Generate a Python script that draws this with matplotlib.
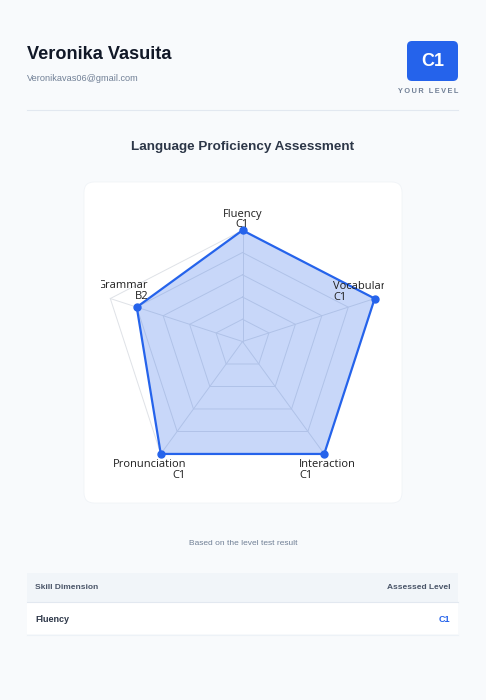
import numpy as np
import matplotlib.pyplot as plt
from matplotlib.patches import FancyBboxPatch, Rectangle

# data
skills = ['Fluency', 'Vocabulary', 'Interaction', 'Pronunciation', 'Grammar']
scores = [5, 5, 5, 5, 4]
levels = ['C1', 'C1', 'C1', 'C1', 'B2']
max_score = 5
table_cols = ['Skill Dimension', 'Assessed Level']
table_rows = [('Fluency', 'C1')]
name = 'Veronika Vasuita'
email = 'Veronikavas06@gmail.com'
overall = 'C1'

W, H = 486, 700
sans = ['Liberation Sans', 'DejaVu Sans']
blue = '#2563eb'

fig = plt.figure(figsize=(W / 100, H / 100), dpi=100)
fig.patch.set_facecolor('#f8fafc')
bg = fig.add_axes([0, 0, 1, 1])
bg.set_xlim(0, W)
bg.set_ylim(H, 0)
bg.axis('off')

# header
bg.text(27, 59.3, name, fontsize=13.1, weight='bold', color='#111827', family=sans)
bg.text(27, 81, email, fontsize=6.6, color='#718096', family=sans)
bg.add_patch(FancyBboxPatch((407, 41), 51, 40, boxstyle='round,pad=0,rounding_size=5',
                            fc=blue, ec='none'))
bg.text(432.5, 66, overall, fontsize=13, weight='bold', color='white', ha='center', family=sans)
bg.text(458, 93, '\u2009'.join('YOUR LEVEL'), fontsize=5.3, weight='bold', color='#718096',
        ha='right', family=sans)
bg.plot([27, 458], [110, 110], color='#e2e8f0', lw=0.8)
bg.text(243, 150, 'Language Proficiency Assessment', fontsize=9.7, weight='bold',
        color='#2d3748', ha='center', family=sans)

# card
bg.add_patch(FancyBboxPatch((84, 182), 318, 321, boxstyle='round,pad=0,rounding_size=10',
                            fc='white', ec='#eef2f6', lw=0.5))

# radar (1 unit = 1 px, centre of web at 0,0)
ax = fig.add_axes([101 / W, 1 - 487 / H, 283 / W, 291 / H])
ax.set_xlim(-141.5, 141.5)
ax.set_ylim(-145.5, 145.5)
ax.axis('off')

n = len(skills)
ang = np.deg2rad(90 - 72 * np.arange(n))
axis_len = np.array([0.8, 1, 1, 1, 1]) * 139
ux, uy = np.cos(ang), np.sin(ang)

grid_c = '#dfe2e7'
for k in range(1, max_score + 1):
    rr = axis_len * k / max_score
    ax.plot(np.append(ux * rr, ux[0] * rr[0]), np.append(uy * rr, uy[0] * rr[0]),
            color=grid_c, lw=0.7, zorder=1)
for i in range(n):
    ax.plot([0, ux[i] * axis_len[i]], [0, uy[i] * axis_len[i]], color=grid_c, lw=0.7, zorder=1)

rv = np.array(scores) / max_score * axis_len
px, py = ux * rv, uy * rv
ax.fill(px, py, color=blue, alpha=0.25, lw=0, zorder=2)
ax.plot(np.append(px, px[0]), np.append(py, py[0]), color=blue, lw=1.6, zorder=3)
ax.plot(px, py, 'o', ms=5, color=blue, zorder=4)

# label placement relative to the outer vertex of each axis
lab_off = [(0, 0, 'center', 'bottom'), (-41.7, -4.2, 'left', 'bottom'),
           (-25.2, -5, 'left', 'top'), (25.2, -5, 'right', 'top'), (38, -3.5, 'right', 'bottom')]
for i in range(n):
    dx, dy, ha, va = lab_off[i]
    t = ax.text(ux[i] * axis_len[i] + dx, uy[i] * axis_len[i] + dy, skills[i] + '\n' + levels[i],
                fontsize=8, color='#1f1f1f', ha=ha, va=va, linespacing=0.95,
                family=['Open Sans', 'DejaVu Sans'], clip_on=True, zorder=5)
    t.set_clip_path(ax.patch)

bg.text(243, 545, 'Based on the level test result', fontsize=6, color='#718096',
        ha='center', family=sans)

# table
bg.add_patch(Rectangle((27, 573), 431, 29, fc='#f1f5f9', ec='none'))
bg.plot([27, 458], [602, 602], color='#e2e8f0', lw=0.8)
bg.text(35, 589.3, table_cols[0], fontsize=6, weight='bold', color='#4a5568', family=sans)
bg.text(450, 589.3, table_cols[1], fontsize=6, weight='bold', color='#4a5568', ha='right', family=sans)
for j, (sk, lv) in enumerate(table_rows):
    y0 = 602 + 32 * j
    bg.add_patch(Rectangle((27, y0), 431, 32, fc='white', ec='none'))
    bg.plot([27, 458], [y0 + 32.5, y0 + 32.5], color='#edf2f7', lw=0.8)
    bg.text(35, y0 + 19.6, sk, fontsize=6.5, weight='bold', color='#2d3748', family=sans)
    bg.text(450, y0 + 19.6, lv, fontsize=6.5, weight='bold', color=blue, ha='right', family=sans)

fig.savefig('out.png', dpi=100, facecolor=fig.get_facecolor())
